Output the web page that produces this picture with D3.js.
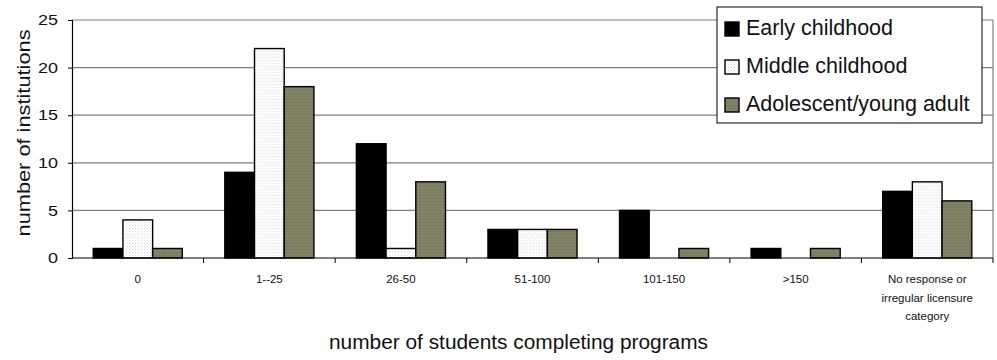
<!DOCTYPE html>
<html>
<head>
<meta charset="utf-8">
<script src="https://cdn.jsdelivr.net/npm/d3@7"></script>
<style>
  html, body { margin: 0; padding: 0; background: #fff; }
  svg { display: block; font-family: "Liberation Sans", Arial, sans-serif; }
</style>
</head>
<body>
<svg id="chart" width="997" height="360"></svg>
<script>
// Categories: number of students completing programs
const categories = ["0", "1--25", "26-50", "51-100", "101-150", ">150", "No response or|irregular licensure|category"];
const seriesNames = ["Early childhood", "Middle childhood", "Adolescent/young adult"];
const earlyChildhood = [1, 9, 12, 3, 5, 1, 7];
const middleChildhood = [4, 22, 1, 3, 0, 0, 8];
const adolescentYoungAdult = [1, 18, 8, 3, 1, 1, 6];
const yTicks = [0, 5, 10, 15, 20, 25];

const seriesValues = [earlyChildhood, middleChildhood, adolescentYoungAdult];

const svg = d3.select("#chart");
const plotL = 72, plotR = 993, plotT = 20, plotB = 258;

// Fill patterns for the two patterned series
const defs = svg.append("defs");
const pMid = defs.append("pattern").attr("id", "pat-mid")
  .attr("patternUnits", "userSpaceOnUse").attr("width", 3).attr("height", 3);
pMid.append("rect").attr("width", 3).attr("height", 3).attr("fill", "#ffffff");
pMid.append("rect").attr("x", 0).attr("y", 0).attr("width", 1).attr("height", 1).attr("fill", "#d9d9d9");
pMid.append("rect").attr("x", 1.5).attr("y", 1.5).attr("width", 1).attr("height", 1).attr("fill", "#e6e6e6");

const pAdo = defs.append("pattern").attr("id", "pat-ado")
  .attr("patternUnits", "userSpaceOnUse").attr("width", 3).attr("height", 3);
pAdo.append("rect").attr("width", 3).attr("height", 3).attr("fill", "#808064");
pAdo.append("rect").attr("x", 0).attr("y", 0).attr("width", 1).attr("height", 1).attr("fill", "#727258");
pAdo.append("rect").attr("x", 1.5).attr("y", 1.5).attr("width", 1).attr("height", 1).attr("fill", "#8a8a6e");

const fills = ["#000000", "url(#pat-mid)", "url(#pat-ado)"];

const x = d3.scaleBand().domain(categories).range([plotL, plotR]).paddingInner(0).paddingOuter(0);
const xInner = d3.scaleBand().domain(d3.range(seriesNames.length))
  .range([0, x.bandwidth()]).paddingInner(0).paddingOuter(0.715);
const y = d3.scaleLinear().domain([0, 25]).range([plotB, plotT]);

// Horizontal gridlines
svg.append("g").selectAll("line").data(yTicks.filter(d => d > 0)).join("line")
  .attr("x1", plotL).attr("x2", plotR)
  .attr("y1", d => y(d)).attr("y2", d => y(d))
  .attr("stroke", "#808080").attr("stroke-width", 1.2);

// Right border of plot area
svg.append("line").attr("x1", plotR).attr("x2", plotR).attr("y1", plotT).attr("y2", plotB)
  .attr("stroke", "#808080").attr("stroke-width", 1.2);

// Bars
const groups = svg.append("g").selectAll("g").data(categories).join("g")
  .attr("transform", d => `translate(${x(d)},0)`);
groups.selectAll("rect").data((d, i) => seriesValues.map((vals, s) => ({ s, v: vals[i] })))
  .join("rect")
  .filter(d => d.v > 0)
  .attr("x", d => xInner(d.s))
  .attr("width", xInner.bandwidth())
  .attr("y", d => y(d.v))
  .attr("height", d => y(0) - y(d.v))
  .attr("fill", d => fills[d.s])
  .attr("stroke", "#000").attr("stroke-width", 1.4);

// Y axis
const yAxis = d3.axisLeft(y).tickValues(yTicks).tickSize(4).tickPadding(10);
const gy = svg.append("g").attr("transform", `translate(${plotL},0)`).call(yAxis);
gy.select(".domain").attr("stroke", "#000").attr("stroke-width", 1.2);
gy.selectAll(".tick line").attr("stroke", "#000");
gy.selectAll(".tick text")
  .attr("font-size", 14.5).attr("fill", "#111")
  .attr("font-family", "Liberation Sans, Arial, sans-serif")
  .attr("textLength", d => String(d).length * 10)
  .attr("lengthAdjust", "spacingAndGlyphs");

// X axis baseline and ticks at category boundaries
svg.append("line").attr("x1", plotL).attr("x2", plotR).attr("y1", plotB).attr("y2", plotB)
  .attr("stroke", "#000").attr("stroke-width", 1.2);
const boundaries = categories.slice(1).map(c => x(c)).concat([plotR]);
svg.append("g").selectAll("line").data(boundaries).join("line")
  .attr("x1", d => d).attr("x2", d => d).attr("y1", plotB).attr("y2", plotB + 5)
  .attr("stroke", "#000").attr("stroke-width", 1);

// X category labels
const xl = svg.append("g").selectAll("text").data(categories).join("text")
  .attr("x", d => x(d) + x.bandwidth() / 2)
  .attr("y", 283)
  .attr("text-anchor", "middle").attr("font-size", 11.5).attr("fill", "#111");
xl.each(function(d) {
  const lines = d.split("|");
  d3.select(this).selectAll("tspan").data(lines).join("tspan")
    .attr("x", x(d) + x.bandwidth() / 2)
    .attr("dy", (l, i) => i === 0 ? 0 : 18.5)
    .text(l => l);
});

// Axis titles
svg.append("text").attr("x", 518.5).attr("y", 349)
  .attr("text-anchor", "middle").attr("font-size", 19.5).attr("fill", "#111")
  .attr("textLength", 379).attr("lengthAdjust", "spacingAndGlyphs")
  .text("number of students completing programs");
svg.append("text").attr("transform", "translate(30,133) rotate(-90)")
  .attr("text-anchor", "middle").attr("font-size", 19).attr("fill", "#111")
  .attr("textLength", 207).attr("lengthAdjust", "spacingAndGlyphs")
  .text("number of institutions");

// Legend
const lg = svg.append("g").attr("transform", "translate(717,7)");
lg.append("rect").attr("width", 265).attr("height", 116)
  .attr("fill", "#fff").attr("stroke", "#000").attr("stroke-width", 1);
const li = lg.selectAll("g.item").data(seriesNames).join("g")
  .attr("transform", (d, i) => `translate(8,${22 + i * 38})`);
li.append("rect").attr("x", 0).attr("y", -7).attr("width", 14).attr("height", 14)
  .attr("fill", (d, i) => fills[i]).attr("stroke", "#000").attr("stroke-width", 1.4);
li.append("text").attr("x", 21).attr("y", 5.5).attr("font-size", 21.5).attr("fill", "#111")
  .text(d => d);
</script>
</body>
</html>
